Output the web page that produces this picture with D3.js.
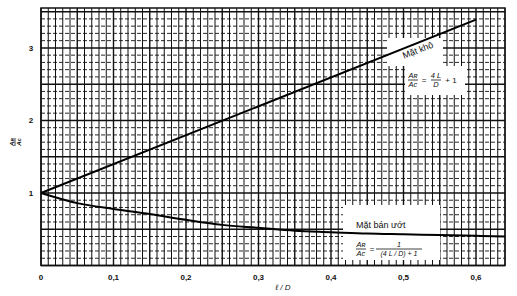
<!DOCTYPE html>
<html>
<head>
<meta charset="utf-8">
<script src="https://cdn.jsdelivr.net/npm/d3@7"></script>
<style>
  body { margin: 0; background: #fff; }
  text { font-family: "Liberation Sans", "DejaVu Sans", sans-serif; fill: #111; }
</style>
</head>
<body>
<div id="chart"></div>
<script>
// values
var xTickValues = [0, 0.1, 0.2, 0.3, 0.4, 0.5, 0.6];
var xTickLabels = ["0", "0,1", "0,2", "0,3", "0,4", "0,5", "0,6"];
var yTickValues = [1, 2, 3];
var yTickLabels = ["1", "2", "3"];

// Mat kho (dry surface)
var dryX = [0, 0.6];
var dryY = [1, 3.39];

// Mat ban uot (semi-wet surface)
var wetX = [0, 0.05, 0.1, 0.15, 0.2, 0.25, 0.3, 0.35, 0.4, 0.45, 0.5, 0.55, 0.6, 0.64];
var wetY = [1, 0.86, 0.78, 0.71, 0.63, 0.56, 0.52, 0.48, 0.46, 0.44, 0.43, 0.42, 0.41, 0.40];

var svgWidth = 517;
var svgHeight = 296;

var svg = d3.select("#chart")
  .append("svg")
  .attr("width", svgWidth)
  .attr("height", svgHeight);

var x = d3.scaleLinear().domain([0, 0.64]).range([41, 505]);
var y = d3.scaleLinear().domain([0, 3.55]).range([265.5, 8]);

var grid = svg.append("g");

// vertical grid every 0.01
d3.range(0, 65).forEach(function(i) {
  var v = i / 100;
  grid.append("line")
    .attr("x1", x(v)).attr("x2", x(v))
    .attr("y1", y(0)).attr("y2", y(3.55))
    .attr("stroke", "#111")
    .attr("stroke-width", i % 5 == 0 ? 1.4 : 1);
});

// horizontal grid every 0.1
d3.range(0, 36).forEach(function(i) {
  var v = i / 10;
  grid.append("line")
    .attr("x1", x(0)).attr("x2", x(0.64))
    .attr("y1", y(v)).attr("y2", y(v))
    .attr("stroke", "#111")
    .attr("stroke-width", i % 5 == 0 ? 1.5 : 0.9)
    .attr("stroke-dasharray", i % 5 == 0 ? null : "4,2");
});

// frame
svg.append("rect")
  .attr("x", x(0)).attr("y", y(3.55))
  .attr("width", x(0.64) - x(0))
  .attr("height", y(0) - y(3.55))
  .attr("fill", "none")
  .attr("stroke", "#111")
  .attr("stroke-width", 1.5);

// white label boxes
svg.append("rect").attr("x", 387).attr("y", 38).attr("width", 56).attr("height", 28).attr("fill", "#fff");
svg.append("rect").attr("x", 405).attr("y", 66).attr("width", 60).attr("height", 29).attr("fill", "#fff");
svg.append("rect").attr("x", 343).attr("y", 205).attr("width", 97).attr("height", 55).attr("fill", "#fff");

// curves
var line = d3.line()
  .x(function(d) { return x(d[0]); })
  .y(function(d) { return y(d[1]); })
  .curve(d3.curveMonotoneX);

svg.append("path")
  .datum(d3.zip(dryX, dryY))
  .attr("d", line)
  .attr("fill", "none")
  .attr("stroke", "#000")
  .attr("stroke-width", 2);

svg.append("path")
  .datum(d3.zip(wetX, wetY))
  .attr("d", line)
  .attr("fill", "none")
  .attr("stroke", "#000")
  .attr("stroke-width", 2);

// axis tick labels
svg.selectAll(".xlab")
  .data(xTickValues)
  .enter()
  .append("text")
  .attr("x", function(d) { return x(d); })
  .attr("y", 280)
  .attr("text-anchor", "middle")
  .style("font-size", "8px")
  .style("font-weight", "bold")
  .text(function(d, i) { return xTickLabels[i]; });

svg.selectAll(".ylab")
  .data(yTickValues)
  .enter()
  .append("text")
  .attr("x", 31)
  .attr("y", function(d) { return y(d) + 3; })
  .attr("text-anchor", "middle")
  .style("font-size", "8px")
  .style("font-weight", "bold")
  .text(function(d, i) { return yTickLabels[i]; });

// axis titles
svg.append("text")
  .attr("x", 283)
  .attr("y", 290)
  .attr("text-anchor", "middle")
  .style("font-size", "8px")
  .style("font-style", "italic")
  .text("ℓ / D");

var yt = svg.append("g").attr("transform", "translate(15, 142) rotate(-90)");
yt.append("text").attr("x", 0).attr("y", -1.5).attr("text-anchor", "middle")
  .style("font-size", "6px").style("font-weight", "bold").style("font-style", "italic").text("Aʀ");
yt.append("line").attr("x1", -4).attr("x2", 4).attr("y1", 0).attr("y2", 0).attr("stroke", "#111").attr("stroke-width", 0.8);
yt.append("text").attr("x", 0).attr("y", 5.5).attr("text-anchor", "middle")
  .style("font-size", "6px").style("font-weight", "bold").style("font-style", "italic").text("Aᴄ");

// label: Mat kho
svg.append("text")
  .attr("transform", "translate(419, 53) rotate(-21)")
  .attr("text-anchor", "middle")
  .style("font-size", "9px")
  .text("Mặt khô");

// small fraction helper
function frac(g, cx, top, bottom, w, size) {
  g.append("text").attr("x", cx).attr("y", -1.8).attr("text-anchor", "middle")
    .style("font-size", size).style("font-style", "italic").text(top);
  g.append("line").attr("x1", cx - w / 2).attr("x2", cx + w / 2).attr("y1", 0).attr("y2", 0)
    .attr("stroke", "#111").attr("stroke-width", 0.8);
  g.append("text").attr("x", cx).attr("y", 7).attr("text-anchor", "middle")
    .style("font-size", size).style("font-style", "italic").text(bottom);
}

var f1 = svg.append("g").attr("transform", "translate(0, 80)");
frac(f1, 413, "Aʀ", "Aᴄ", 10, "7.5px");
f1.append("text").attr("x", 424).attr("y", 2.8).attr("text-anchor", "middle").style("font-size", "8px").text("=");
frac(f1, 436, "4 L", "D", 10, "7.5px");
f1.append("text").attr("x", 451).attr("y", 2.8).attr("text-anchor", "middle").style("font-size", "8px").text("+ 1");

// label: Mat ban uot
svg.append("text")
  .attr("x", 356)
  .attr("y", 228)
  .style("font-size", "9px")
  .text("Mặt bán ướt");

var f2 = svg.append("g").attr("transform", "translate(0, 249)");
frac(f2, 361, "Aʀ", "Aᴄ", 10, "7.5px");
f2.append("text").attr("x", 372).attr("y", 2.8).attr("text-anchor", "middle").style("font-size", "8px").text("=");
frac(f2, 399, "1", "(4 L / D) + 1", 46, "7px");
</script>
</body>
</html>
